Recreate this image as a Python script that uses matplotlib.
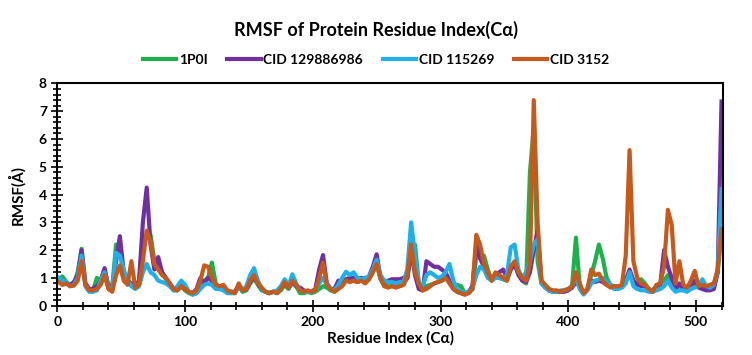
import numpy as np
import matplotlib
matplotlib.use("Agg")
import matplotlib.pyplot as plt
from matplotlib.ticker import MultipleLocator

plt.rcParams['font.family'] = ['Lato', 'DejaVu Sans']
plt.rcParams['font.weight'] = 'bold'

# residue index (every 3rd residue)
residue = np.arange(1, 521, 3)

p1p0i = [0.95, 1.05, 0.85, 0.75, 0.8, 1.2, 2.05, 0.75, 0.55, 0.55,
         1.0, 0.9, 1.3, 0.65, 0.65, 2.2, 2.0, 1.1, 0.85, 0.75,
         0.65, 0.85, 2.2, 2.55, 2.55, 1.6, 1.55, 1.2, 0.95, 0.75,
         0.55, 0.55, 0.7, 0.55, 0.45, 0.4, 0.45, 0.7, 0.9, 1.0,
         1.55, 0.8, 0.65, 0.7, 0.5, 0.45, 0.45, 0.7, 0.5, 0.55,
         0.8, 1.0, 0.75, 0.55, 0.5, 0.45, 0.5, 0.45, 0.55, 0.75,
         0.6, 0.85, 0.7, 0.45, 0.45, 0.5, 0.45, 0.5, 0.6, 0.7,
         0.65, 0.55, 0.5, 0.65, 0.75, 0.9, 0.9, 0.9, 0.85, 0.9,
         0.85, 0.95, 1.2, 1.5, 0.95, 0.7, 0.7, 0.7, 0.7, 0.7,
         0.75, 1.0, 1.8, 2.2, 0.8, 0.55, 0.7, 0.75, 0.8, 0.85,
         0.9, 1.0, 0.85, 0.7, 0.75, 0.7, 0.45, 0.45, 0.6, 1.8,
         1.7, 1.8, 1.3, 0.9, 1.1, 1.0, 0.95, 0.9, 1.3, 1.5,
         1.2, 0.9, 0.8, 4.8, 6.4, 1.6, 0.8, 0.65, 0.55, 0.5,
         0.5, 0.5, 0.55, 0.6, 0.7, 2.45, 0.7, 0.45, 0.6, 1.1,
         1.6, 2.2, 1.7, 1.0, 0.75, 0.7, 0.65, 0.7, 0.9, 1.2,
         0.9, 0.8, 0.95, 0.8, 0.6, 0.55, 0.7, 0.8, 0.9, 1.1,
         0.8, 0.6, 0.7, 0.65, 0.6, 0.7, 0.8, 0.7, 0.7, 0.65,
         0.7, 0.75, 1.2, 2.6]

cid_129886986 = [0.9, 0.85, 0.8, 0.75, 0.85, 1.1, 2.0, 0.8, 0.6, 0.6,
                 0.7, 0.9, 1.35, 0.7, 0.7, 1.6, 2.5, 1.2, 0.9, 0.8,
                 0.7, 0.9, 3.0, 4.25, 2.2, 1.3, 1.75, 1.2, 1.0, 0.8,
                 0.6, 0.6, 0.75, 0.6, 0.5, 0.45, 0.6, 1.0, 0.8, 1.0,
                 0.9, 0.7, 0.65, 0.7, 0.55, 0.5, 0.5, 0.7, 0.55, 0.6,
                 0.85, 1.05, 0.8, 0.6, 0.5, 0.45, 0.5, 0.5, 0.65, 0.8,
                 0.65, 0.85, 0.7, 0.65, 0.55, 0.5, 0.5, 0.6, 1.3, 1.82,
                 0.8, 0.6, 0.6, 0.9, 0.8, 0.95, 1.0, 1.0, 0.95, 1.0,
                 0.95, 1.05, 1.4, 1.85, 1.0, 0.8, 0.9, 0.95, 0.95, 0.95,
                 1.0, 1.0, 2.0, 1.1, 0.6, 0.55, 1.6, 1.5, 1.4, 1.4,
                 1.3, 1.2, 0.9, 0.6, 0.5, 0.45, 0.4, 0.5, 0.7, 2.2,
                 1.7, 1.4, 1.1, 1.0, 1.1, 1.2, 1.3, 1.0, 1.3, 1.5,
                 1.1, 0.9, 0.85, 1.2, 2.0, 2.7, 0.9, 0.7, 0.55, 0.5,
                 0.5, 0.5, 0.5, 0.55, 0.65, 0.85, 0.7, 0.45, 0.6, 0.9,
                 0.85, 0.9, 0.85, 0.75, 0.7, 0.65, 0.65, 0.7, 0.9, 1.3,
                 0.9, 0.75, 0.7, 0.7, 0.55, 0.5, 0.7, 0.75, 2.0, 1.4,
                 1.0, 0.6, 0.8, 0.6, 0.6, 0.75, 0.9, 0.65, 0.6, 0.55,
                 0.55, 0.6, 1.2, 7.35]

cid_115269 = [1.0, 0.9, 0.85, 0.7, 0.75, 1.0, 1.8, 0.7, 0.5, 0.5,
              0.55, 0.9, 1.2, 0.65, 0.6, 1.9, 1.8, 1.3, 0.9, 0.7,
              0.6, 0.7, 1.2, 1.5, 1.2, 1.1, 0.9, 0.85, 0.8, 0.7,
              0.55, 0.7, 0.9, 0.75, 0.5, 0.4, 0.45, 0.6, 0.75, 0.8,
              0.75, 0.6, 0.6, 0.55, 0.45, 0.45, 0.5, 0.7, 0.55, 0.7,
              1.1, 1.35, 0.9, 0.6, 0.5, 0.45, 0.5, 0.55, 0.7, 0.95,
              0.7, 1.13, 0.8, 0.55, 0.5, 0.5, 0.5, 0.55, 0.8, 1.0,
              0.75, 0.6, 0.55, 0.75, 1.0, 1.22, 1.1, 1.2, 1.0, 0.95,
              1.0, 1.05, 1.3, 1.65, 1.1, 0.9, 0.85, 0.85, 0.8, 0.85,
              0.85, 1.3, 3.0, 1.8, 0.8, 0.7, 1.1, 1.2, 1.1, 1.0,
              1.05, 1.2, 1.5, 0.9, 0.6, 0.5, 0.45, 0.5, 0.6, 1.1,
              1.4, 1.3, 1.0, 0.9, 1.0, 1.0, 0.95, 1.1, 2.1, 2.2,
              1.3, 1.0, 1.2, 1.6, 2.2, 2.4, 0.8, 0.65, 0.55, 0.5,
              0.5, 0.55, 0.55, 0.6, 0.7, 1.0, 0.6, 0.4, 0.55, 0.8,
              0.9, 0.95, 1.0, 0.85, 0.75, 0.6, 0.6, 0.65, 0.8, 1.2,
              0.7, 0.6, 0.55, 0.55, 0.5, 0.5, 0.55, 0.6, 0.7, 0.9,
              0.65, 0.5, 0.55, 0.55, 0.5, 0.6, 0.65, 0.7, 0.95, 0.7,
              0.65, 0.75, 1.3, 4.2]

cid_3152 = [0.85, 0.75, 0.8, 0.7, 0.72, 0.9, 1.6, 0.75, 0.55, 0.55,
            0.6, 0.75, 1.1, 0.6, 0.5, 1.1, 1.45, 0.9, 0.75, 1.6,
            0.65, 0.75, 1.6, 2.7, 2.3, 1.5, 1.3, 1.1, 1.0, 0.8,
            0.6, 0.55, 0.7, 0.6, 0.5, 0.45, 0.55, 0.9, 1.45, 1.4,
            1.0, 0.75, 0.7, 0.75, 0.55, 0.5, 0.45, 0.8, 0.55, 0.6,
            0.9, 1.1, 0.8, 0.65, 0.5, 0.45, 0.5, 0.45, 0.6, 0.85,
            0.65, 0.9, 0.75, 0.55, 0.5, 0.55, 0.5, 0.55, 1.0, 1.55,
            0.75, 0.6, 0.5, 0.6, 0.7, 0.9, 0.85, 0.9, 0.85, 0.9,
            0.8, 0.95, 1.2, 1.5, 1.0, 0.7, 0.65, 0.7, 0.65, 0.7,
            0.75, 1.1, 2.2, 1.2, 0.8, 0.55, 0.6, 0.7, 0.8, 0.85,
            0.9, 1.0, 0.8, 0.6, 0.5, 0.45, 0.4, 0.45, 0.6, 2.55,
            2.2, 1.5, 1.2, 0.9, 1.2, 1.1, 1.0, 0.9, 1.4, 1.6,
            1.2, 1.0, 0.9, 1.5, 7.4, 3.0, 0.9, 0.75, 0.6, 0.55,
            0.55, 0.5, 0.55, 0.6, 0.7, 1.2, 0.8, 0.45, 0.6, 1.3,
            1.1, 1.15, 0.9, 0.75, 0.65, 0.7, 0.7, 0.75, 1.8, 5.6,
            1.6, 1.0, 0.8, 0.75, 0.6, 0.5, 0.75, 0.8, 1.4, 3.45,
            2.9, 0.8, 1.6, 0.75, 0.65, 0.9, 1.25, 0.7, 0.75, 0.7,
            0.75, 0.8, 1.3, 2.75]

series = [("1P0I", p1p0i, "#1fb04b"),
          ("CID 129886986", cid_129886986, "#7030a0"),
          ("CID 115269", cid_115269, "#1fb0ea"),
          ("CID 3152", cid_3152, "#c55a1c")]

fig = plt.figure(figsize=(7.52, 3.55), dpi=100)
ax = fig.add_axes([0.0762, 0.139, 0.885, 0.626])

for name, vals, col in series:
    ax.plot(residue, vals, color=col, lw=3.0, label=name, solid_joinstyle='round')

ax.set_xlim(0, 521)
ax.set_ylim(0, 8)
ax.xaxis.set_major_locator(MultipleLocator(100))
ax.xaxis.set_minor_locator(MultipleLocator(20))
ax.yaxis.set_major_locator(MultipleLocator(1))
ax.yaxis.set_minor_locator(MultipleLocator(0.2))
ax.tick_params(which='both', direction='inout', width=1.2, colors='black', labelsize=10)
ax.tick_params(which='major', length=8)
ax.tick_params(which='minor', length=6)
for s in ax.spines.values():
    s.set_linewidth(1.5)
for lab in ax.get_xticklabels() + ax.get_yticklabels():
    lab.set_fontweight('bold')

ax.set_xlabel("Residue Index (Cα)", fontsize=11, fontweight='bold', labelpad=2)
ax.set_ylabel("RMSF(Å)", fontsize=11, fontweight='bold', labelpad=10)
fig.suptitle("RMSF of Protein Residue Index(Cα)", fontsize=13, fontweight='bold', y=0.94)
fig.legend(loc='center', bbox_to_anchor=(0.5, 0.832), ncol=4, frameon=False,
           prop={'size': 10, 'weight': 'bold'}, handlelength=2.4,
           handletextpad=0.2, columnspacing=1.4)

fig.savefig("out.png", dpi=100)
